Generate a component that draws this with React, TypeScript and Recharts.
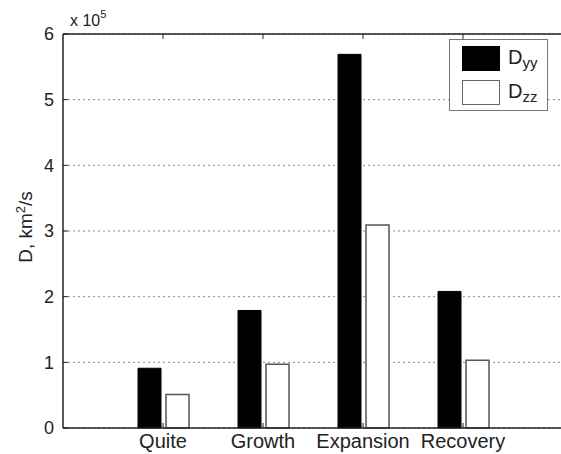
import React from 'react';
import { BarChart, Bar, XAxis, YAxis, CartesianGrid, Legend, ReferenceLine } from 'recharts';

// substorm phases and diffusion coefficients (x 10^5 km^2/s)
const phases = ['Quite', 'Growth', 'Expansion', 'Recovery'];
const dyyValues = [0.91, 1.79, 5.69, 2.08];
const dzzValues = [0.51, 0.97, 3.09, 1.03];
const yTicks = [0, 1, 2, 3, 4, 5, 6];

const data = phases.map((phase, i) => ({ phase, Dyy: dyyValues[i], Dzz: dzzValues[i] }));

const FONT = '"Liberation Sans", Arial, Helvetica, sans-serif';
const INK = '#222222';
const PLOT_LEFT = 63;
const PLOT_TOP = 34;
const PLOT_BOTTOM = 428;

const YTick = ({ y, payload }: any) => (
  <g>
    <line x1={PLOT_LEFT} x2={PLOT_LEFT + 5} y1={y} y2={y} stroke={INK} strokeWidth={1} />
    <text x={54} y={y} dy="0.36em" textAnchor="end" fontSize={18} fill={INK} fontFamily={FONT}>
      {payload.value}
    </text>
  </g>
);

const XTick = ({ x, payload }: any) => (
  <g>
    {/* matlab style inward ticks, bottom and top */}
    <line x1={x} x2={x} y1={PLOT_BOTTOM} y2={PLOT_BOTTOM - 5} stroke={INK} strokeWidth={1} />
    <line x1={x} x2={x} y1={PLOT_TOP} y2={PLOT_TOP + 5} stroke={INK} strokeWidth={1} />
    <text x={x} y={448} textAnchor="middle" fontSize={20} fill={INK} fontFamily={FONT}>
      {payload.value}
    </text>
  </g>
);

const AxisTitle = () => (
  <g fontFamily={FONT} fill={INK}>
    <text transform="translate(32,227) rotate(-90)" textAnchor="middle" fontSize={19}>
      D, km<tspan dy={-7} fontSize={13}>2</tspan>
      <tspan dy={7} fontSize={19}>/s</tspan>
    </text>
    <text x={70} y={26} fontSize={16}>
      x 10<tspan dy={-8} fontSize={11}>5</tspan>
    </text>
  </g>
);

const LegendBox = ({ payload }: any) => (
  <div
    style={{
      width: 99,
      height: 72,
      boxSizing: 'border-box',
      border: '1.5px solid #777',
      background: '#fff',
      position: 'relative',
      fontFamily: FONT,
      color: INK,
    }}
  >
    {(payload || []).map((entry: any, i: number) => {
      const name: string = entry.value;
      const filled = name === 'Dyy';
      return (
        <div key={name}>
          <div
            style={{
              position: 'absolute',
              left: 12,
              top: 6 + i * 34,
              width: 38,
              height: 25,
              boxSizing: 'border-box',
              background: filled ? '#000' : '#fff',
              border: filled ? '1px solid #000' : '1.5px solid #666',
            }}
          />
          <div style={{ position: 'absolute', left: 58, top: 5 + i * 34, fontSize: 20, lineHeight: '24px' }}>
            {name.charAt(0)}
            <sub style={{ fontSize: 15, verticalAlign: '-4px' }}>{name.slice(1)}</sub>
          </div>
        </div>
      );
    })}
  </div>
);

export default function App() {
  return (
    <div style={{ width: 561, height: 454, overflow: 'hidden', position: 'relative', background: '#fff' }}>
      <style>{'html,body{margin:0;overflow:hidden}'}</style>
      {/* plot runs past the right edge (xlim 0..5), so the chart is wider than the window */}
      <BarChart
        width={700}
        height={454}
        data={data}
        margin={{ top: PLOT_TOP, right: 137, left: 0, bottom: 0 }}
        barSize={23}
        barGap={5}
      >
        <CartesianGrid horizontal vertical={false} stroke="#8a8a8a" strokeDasharray="2 3" />
        <XAxis
          dataKey="phase"
          height={26}
          interval={0}
          padding={{ left: 50, right: 50 }}
          tickLine={false}
          tick={<XTick />}
          axisLine={{ stroke: INK, strokeWidth: 1.5 }}
        />
        <YAxis
          type="number"
          domain={[0, 6]}
          ticks={yTicks}
          width={PLOT_LEFT}
          tickLine={false}
          tick={<YTick />}
          axisLine={{ stroke: INK, strokeWidth: 1.5 }}
          label={<AxisTitle />}
        />
        <ReferenceLine y={6} stroke={INK} strokeWidth={1.5} />
        <Legend
          layout="horizontal"
          verticalAlign="middle"
          content={<LegendBox />}
          wrapperStyle={{ position: 'absolute', left: 449, top: 39, width: 99, height: 72 }}
        />
        <Bar dataKey="Dyy" name="Dyy" fill="#000" stroke="#000" strokeWidth={1} isAnimationActive={false} />
        <Bar dataKey="Dzz" name="Dzz" fill="#fff" stroke="#555" strokeWidth={1.5} isAnimationActive={false} />
      </BarChart>
    </div>
  );
}
